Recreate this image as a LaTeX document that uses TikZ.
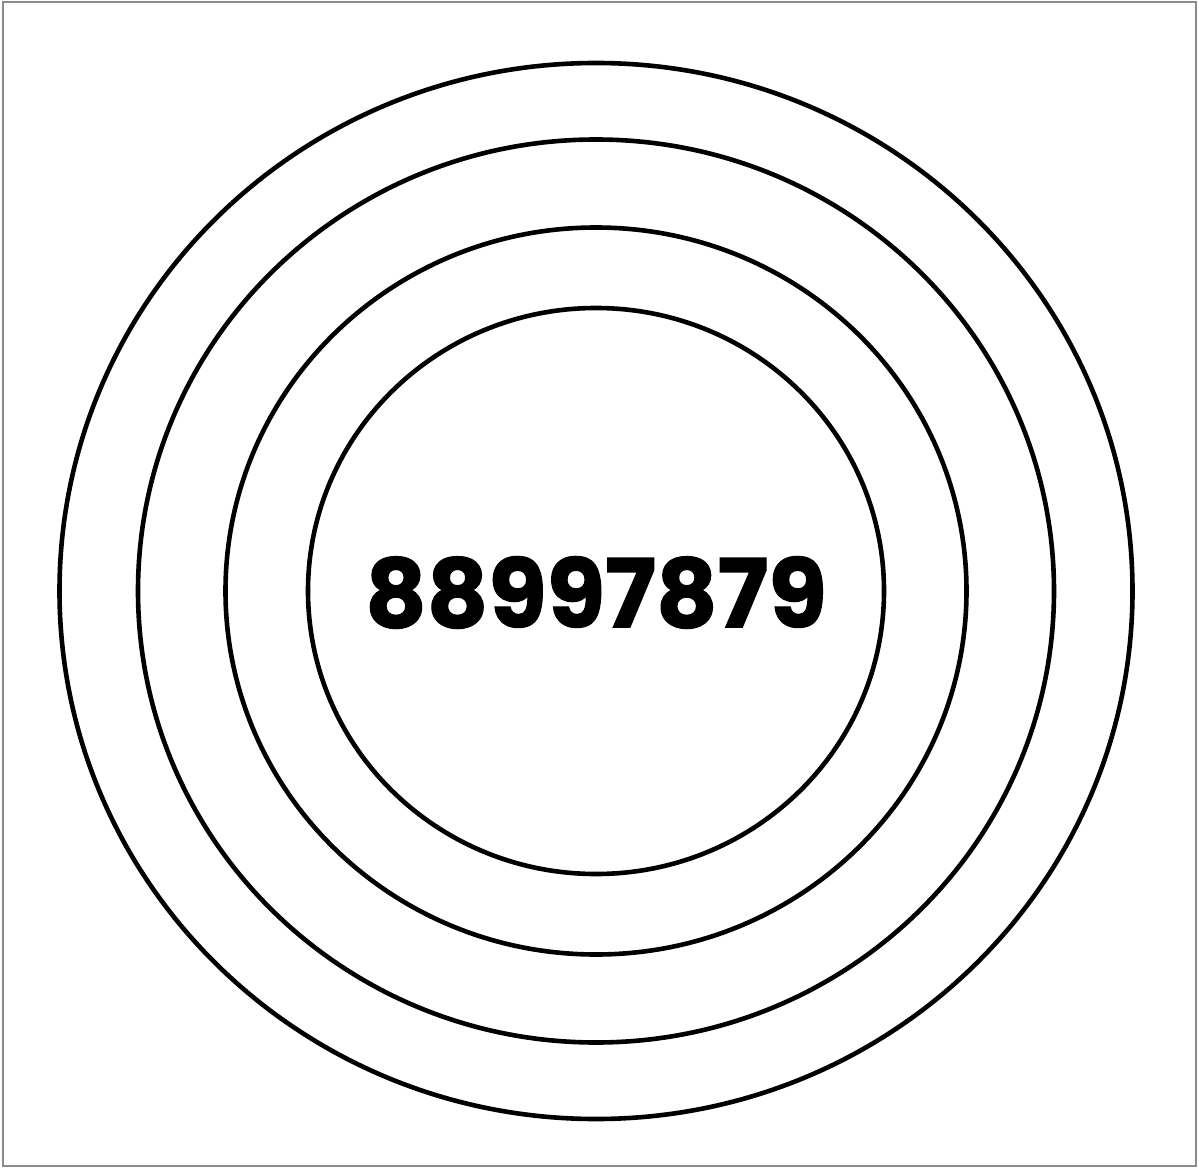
\documentclass[tikz,border=0pt]{standalone}
\usepackage{fontspec}
\newfontfamily\numfont[FakeBold=1.3]{Poppins Bold}
\begin{document}
\begin{tikzpicture}[x=1pt,y=-1pt,
  ring/.style={draw=black,line width=4.6pt},
  frame/.style={draw=black!45,line width=2pt}]
\useasboundingbox (0,0) rectangle (1199,1169);
\fill[white] (0,0) rectangle (1199,1169);
\draw[frame] (3,2) rectangle (1196,1166);
\coordinate (c) at (596,591);
\draw[ring] (c) ellipse [x radius=536.5, y radius=528];
\draw[ring] (c) ellipse [x radius=458, y radius=451.5];
\draw[ring] (c) ellipse [x radius=370.5, y radius=363.5];
\draw[ring] (c) ellipse [x radius=288, y radius=283];
\node[inner sep=0pt, anchor=center] (num) at (596,592.5) {\numfont\fontsize{95}{95}\selectfont 88997879};
\end{tikzpicture}
\end{document}
